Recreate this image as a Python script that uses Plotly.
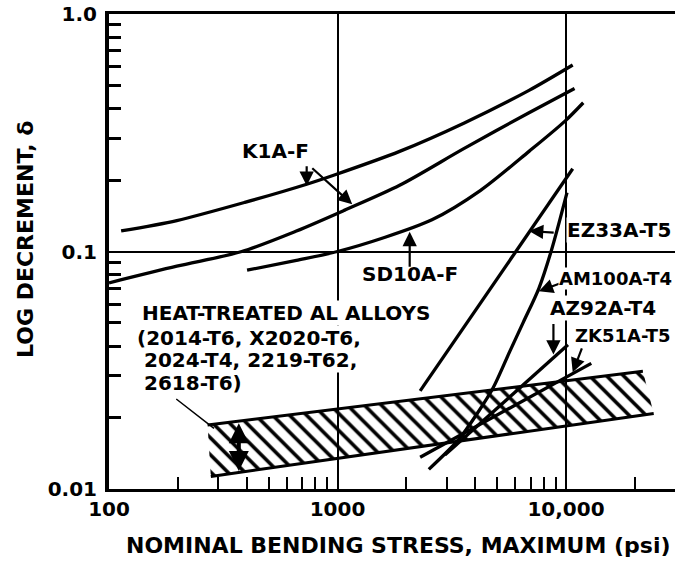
import numpy as np
import plotly.graph_objects as go

# values (stress in psi, log decrement)
k1a_hi_stress = [113, 198, 393, 733, 969, 1870, 3570, 6890, 10700]
k1a_hi_delta = [0.122, 0.135, 0.161, 0.192, 0.210, 0.264, 0.347, 0.477, 0.610]

k1a_lo_stress = [100, 198, 381, 661, 1070, 1870, 3570, 6890, 10900]
k1a_lo_delta = [0.0738, 0.0867, 0.100, 0.122, 0.149, 0.190, 0.271, 0.384, 0.486]

sd10a_stress = [402, 661, 1000, 1580, 2590, 4230, 6890, 9900, 11900]
sd10a_delta = [0.0834, 0.0918, 0.100, 0.114, 0.136, 0.181, 0.264, 0.354, 0.423]

ez33a_stress = [2300, 10700]
ez33a_delta = [0.0259, 0.223]

am100a_stress = [2510, 3380, 4100, 4800, 5670, 6500, 7610, 8630, 10100]
am100a_delta = [0.0121, 0.0161, 0.0209, 0.0267, 0.0379, 0.0503, 0.0700, 0.101, 0.177]

az92a_stress = [2950, 10200]
az92a_delta = [0.0139, 0.0405]

zk51a_stress = [2300, 12900]
zk51a_delta = [0.0136, 0.0338]

# heat-treated Al alloys scatter band
band_upper_stress = [270, 21700]
band_upper_delta = [0.0186, 0.0313]
band_lower_stress = [279, 24200]
band_lower_delta = [0.0113, 0.0208]

x_major = [100, 1000, 10000]
x_labels = ["100", "1000", "10,000"]
y_major = [0.01, 0.1, 1.0]
y_labels = ["0.01", "0.1", "1.0"]
x_minor = [m * d for d in (100, 1000) for m in range(2, 10)] + [20000]
y_minor = [m * d for d in (0.01, 0.1) for m in range(2, 10)]

FONT = dict(family="DejaVu Sans", size=20, color="black", weight="bold")
L, T, W, H = 109, 14, 566, 475


def paper(px, py):
    return (px - L) / W, 1 - (py - T) / H


fig = go.Figure()

# band: hatched fill, then its two long edges
fig.add_trace(go.Scatter(
    x=band_upper_stress + band_lower_stress[::-1] + band_upper_stress[:1],
    y=band_upper_delta + band_lower_delta[::-1] + band_upper_delta[:1],
    mode="lines", line=dict(width=0), fill="toself",
    fillcolor="rgba(0,0,0,0)",
    fillpattern=dict(shape="\\", size=12, solidity=0.3, fgcolor="black", fgopacity=1,
                     bgcolor="rgba(0,0,0,0)"),
    hoverinfo="skip"))
for xs, ys in [(band_upper_stress, band_upper_delta), (band_lower_stress, band_lower_delta)]:
    fig.add_trace(go.Scatter(x=xs, y=ys, mode="lines", line=dict(color="black", width=3)))

curves = [
    (k1a_hi_stress, k1a_hi_delta),
    (k1a_lo_stress, k1a_lo_delta),
    (sd10a_stress, sd10a_delta),
    (ez33a_stress, ez33a_delta),
    (am100a_stress, am100a_delta),
    (az92a_stress, az92a_delta),
    (zk51a_stress, zk51a_delta),
]
for xs, ys in curves:
    fig.add_trace(go.Scatter(x=xs, y=ys, mode="lines",
                             line=dict(color="black", width=3.3, shape="spline", smoothing=0.8)))

# pointer arrows: (head stress, head delta, tail stress, tail delta)
arrows = [
    (733, 0.189, 733, 0.232),
    (1160, 0.158, 764, 0.227),
    (2070, 0.121, 2070, 0.085),
    (6890, 0.122, 8970, 0.120),
    (7610, 0.068, 9530, 0.0738),
    (8810, 0.0368, 8810, 0.0503),
    (10700, 0.0310, 11800, 0.0397),
]
for hx, hy, tx, ty in arrows:
    fig.add_annotation(x=np.log10(hx), y=np.log10(hy), ax=np.log10(tx), ay=np.log10(ty),
                       xref="x", yref="y", axref="x", ayref="y", text="", showarrow=True,
                       arrowhead=2, arrowsize=1.3, arrowwidth=2.2, arrowcolor="black")

# band width double arrow and leader line to the label
fig.add_annotation(x=np.log10(370), y=np.log10(0.0119), ax=np.log10(370), ay=np.log10(0.0192),
                   xref="x", yref="y", axref="x", ayref="y", text="", showarrow=True,
                   arrowhead=2, startarrowhead=2, arrowside="end+start", arrowsize=1,
                   arrowwidth=4, arrowcolor="black")
fig.add_annotation(x=np.log10(288), y=np.log10(0.0180), ax=np.log10(194), ay=np.log10(0.0242),
                   xref="x", yref="y", axref="x", ayref="y", text="", showarrow=True,
                   arrowhead=0, arrowwidth=1.5, arrowcolor="black")

labels = [
    ("K1A-F", 275, 151, "center", None, 20),
    ("SD10A-F", 410, 274, "center", None, 20),
    ("EZ33A-T5", 566, 230, "left", "white", 20),
    ("AM100A-T4", 558, 278, "left", "white", 18),
    ("AZ92A-T4", 549, 308, "left", "white", 20),
    ("ZK51A-T5", 574, 335, "left", None, 18),
    ("HEAT-TREATED AL ALLOYS", 141, 313, "left", "white", 20),
    ("(2014-T6, X2020-T6,", 136, 338, "left", "white", 20),
    ("2024-T4, 2219-T62,", 143, 360, "left", "white", 20),
    ("2618-T6)", 143, 383, "left", "white", 20),
]
for text, px, py, anchor, bg, size in labels:
    xp, yp = paper(px, py)
    fig.add_annotation(x=xp, y=yp, xref="paper", yref="paper", text=text, showarrow=False,
                       xanchor=anchor, yanchor="middle", font=dict(FONT, size=size),
                       bgcolor=bg if bg else "rgba(0,0,0,0)", borderpad=0)

# axis titles
xp, yp = paper(398, 545)
fig.add_annotation(x=xp, y=yp, xref="paper", yref="paper", showarrow=False,
                   text="NOMINAL BENDING STRESS, MAXIMUM (psi)", font=dict(FONT, size=22),
                   xanchor="center", yanchor="middle")
xp, yp = paper(25, 240)
fig.add_annotation(x=xp, y=yp, xref="paper", yref="paper", showarrow=False,
                   text="LOG DECREMENT, δ", font=dict(FONT, size=22), textangle=-90,
                   xanchor="center", yanchor="middle")

fig.update_layout(
    width=675, height=562,
    margin=dict(l=L, r=0, t=T, b=562 - T - H),
    paper_bgcolor="white", plot_bgcolor="white",
    showlegend=False,
    xaxis=dict(type="log", range=[2, 2 + W / 228.5], tickvals=x_major, ticktext=x_labels,
               showgrid=True, gridcolor="black", gridwidth=1.6, zeroline=False,
               showline=True, linecolor="black", linewidth=3, mirror=True,
               ticks="", tickfont=FONT, ticklabelstandoff=0,
               minor=dict(tickvals=x_minor, ticks="inside", ticklen=12, tickwidth=2,
                          tickcolor="black", showgrid=False)),
    yaxis=dict(type="log", range=[-2, 0], tickvals=y_major, ticktext=y_labels,
               showgrid=True, gridcolor="black", gridwidth=1.6, zeroline=False,
               showline=True, linecolor="black", linewidth=4,
               ticks="", tickfont=FONT, ticklabelstandoff=4,
               minor=dict(tickvals=y_minor, ticks="inside", ticklen=12, tickwidth=2.5,
                          tickcolor="black", showgrid=False)),
)

fig.write_html("out.html", config={"displayModeBar": False},
               post_script="document.body.style.margin='0px';document.body.style.overflow='hidden';")
